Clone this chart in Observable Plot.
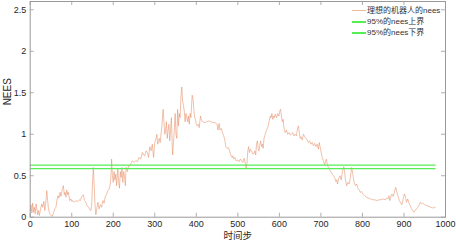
<!DOCTYPE html>
<html>
<head>
<meta charset="utf-8">
<script src="https://cdn.jsdelivr.net/npm/d3@7"></script>
<script src="https://cdn.jsdelivr.net/npm/@observablehq/plot@0.6"></script>
<style>
  html, body { margin: 0; padding: 0; background: #fff; }
  #wrap { position: relative; width: 456px; height: 243px; font-family: "Liberation Sans", Arial, sans-serif; }
  #legend { position: absolute; left: 352px; top: 5px; font-size: 8px; color: #333; line-height: 11px; font-family: "Liberation Sans", "Noto Sans CJK SC", sans-serif; }
  #legend .row { display: flex; align-items: center; white-space: nowrap; height: 11px; }
  #legend .sw { display: inline-block; width: 14px; margin-right: 1px; }
</style>
</head>
<body>
<div id="wrap"><div id="legend"></div></div>
<script>
const neesPoints = [
[0,0.08],[2,0.15],[4,0.05],[6,0.17],[8,0.06],[10,0.12],[12,0.04],[14,0.16],[16,0.1],[18,0.03],
[20,0.08],[22,0.02],[25,0.1],[28,0.16],[30,0.12],[33,0.19],[35,0.08],[37,0.15],[40,0.32],[42,0.2],
[44,0.1],[46,0.06],[48,0.03],[50,0.02],[53,0.01],[56,0.05],[59,0.1],[62,0.12],[65,0.22],[67,0.26],
[69,0.23],[72,0.3],[74,0.25],[77,0.33],[80,0.38],[82,0.27],[84,0.3],[86,0.24],[88,0.33],[90,0.27],
[92,0.3],[95,0.2],[98,0.22],[100,0.19],[103,0.2],[106,0.18],[110,0.2],[114,0.19],[118,0.21],[121,0.2],
[124,0.25],[128,0.27],[131,0.2],[134,0.18],[137,0.14],[140,0.12],[143,0.1],[146,0.08],[148,0.15],[150,0.4],
[152,0.6],[154,0.4],[156,0.15],[158,0.03],[161,0.12],[163,0.18],[166,0.1],[169,0.15],[172,0.12],[175,0.2],
[178,0.17],[181,0.25],[184,0.28],[187,0.32],[190,0.34],[193,0.4],[195,0.55],[196,0.7],[198,0.5],[200,0.42],
[202,0.55],[204,0.45],[206,0.52],[208,0.38],[211,0.58],[213,0.42],[215,0.35],[217,0.55],[219,0.48],[221,0.6],
[223,0.42],[225,0.55],[227,0.5],[229,0.38],[231,0.6],[234,0.55],[237,0.62],[240,0.62],[243,0.65],[246,0.68],
[250,0.66],[254,0.68],[258,0.67],[262,0.72],[266,0.7],[270,0.78],[273,0.75],[276,0.74],[279,0.8],[282,0.78],
[285,0.72],[288,0.85],[291,0.8],[294,0.88],[297,0.72],[300,0.9],[303,0.95],[305,1.0],[307,0.88],[309,0.92],
[311,0.95],[313,0.9],[315,1.0],[317,1.1],[320,1.3],[322,1.15],[324,1.0],[326,1.05],[328,1.15],[330,0.95],
[332,1.05],[334,1.12],[336,0.92],[338,1.05],[340,1.2],[342,0.85],[343,0.75],[345,0.9],[347,1.05],[349,1.25],
[351,1.0],[353,0.95],[355,1.3],[357,1.1],[359,1.25],[361,1.2],[363,1.45],[365,1.57],[367,1.4],[369,1.35],
[371,1.28],[373,1.15],[375,1.25],[377,1.2],[379,1.15],[381,1.22],[383,1.12],[385,1.25],[387,1.2],[390,1.47],
[392,1.43],[394,1.3],[396,1.2],[398,1.18],[400,1.12],[402,1.1],[405,1.12],[407,1.08],[410,1.22],[412,1.18],
[415,1.15],[420,1.14],[425,1.15],[430,1.16],[435,1.15],[440,1.14],[445,1.14],[450,1.12],[452,1.05],[455,1.13],
[457,1.05],[460,1.07],[463,1.02],[466,0.98],[469,0.92],[471,0.85],[474,0.83],[477,0.84],[480,0.8],[483,0.75],
[486,0.72],[488,0.74],[490,0.7],[493,0.72],[496,0.68],[500,0.69],[503,0.67],[506,0.7],[509,0.68],[512,0.66],
[515,0.71],[518,0.65],[520,0.58],[522,0.65],[524,0.8],[526,0.85],[528,0.78],[530,0.82],[533,0.8],[536,0.76],
[539,0.77],[541,0.8],[543,0.75],[545,0.88],[547,0.92],[549,0.82],[551,0.8],[553,0.88],[555,0.92],[557,0.85],
[559,0.88],[561,0.83],[563,0.95],[566,1.0],[569,1.05],[572,1.08],[575,1.15],[578,1.22],[580,1.2],[582,1.25],
[584,1.18],[586,1.22],[588,1.2],[590,1.24],[593,1.2],[596,1.25],[599,1.22],[601,1.28],[603,1.3],[605,1.22],
[607,1.15],[609,1.18],[611,1.08],[614,1.02],[617,1.05],[620,1.0],[623,1.02],[626,0.99],[629,1.0],[632,1.02],
[635,0.98],[638,1.0],[641,0.98],[644,1.08],[646,1.1],[648,1.02],[650,0.95],[652,0.97],[655,0.93],[658,1.0],
[661,0.97],[664,0.95],[667,0.93],[670,0.9],[673,0.92],[676,0.88],[679,0.9],[682,0.86],[685,0.89],[688,0.85],
[691,0.88],[694,0.82],[696,0.9],[698,0.85],[700,0.8],[703,0.72],[706,0.68],[709,0.63],[711,0.67],[713,0.7],
[715,0.65],[718,0.6],[721,0.57],[724,0.55],[727,0.52],[730,0.5],[733,0.48],[736,0.43],[738,0.45],[740,0.4],
[743,0.47],[746,0.5],[749,0.45],[752,0.55],[755,0.61],[757,0.55],[759,0.45],[762,0.38],[765,0.42],[768,0.4],
[771,0.48],[774,0.6],[776,0.55],[778,0.48],[780,0.42],[783,0.38],[786,0.4],[789,0.35],[792,0.33],[795,0.3],
[798,0.31],[801,0.28],[805,0.26],[810,0.24],[815,0.23],[820,0.22],[825,0.21],[830,0.21],[835,0.2],[840,0.21],
[845,0.21],[850,0.22],[855,0.21],[858,0.23],[861,0.22],[864,0.26],[866,0.2],[868,0.24],[871,0.28],[874,0.25],
[877,0.3],[880,0.36],[883,0.3],[886,0.25],[889,0.2],[892,0.17],[895,0.15],[898,0.22],[901,0.28],[904,0.24],
[906,0.18],[909,0.22],[912,0.17],[915,0.14],[918,0.1],[921,0.08],[924,0.06],[927,0.08],[930,0.1],[933,0.12],
[936,0.14],[939,0.18],[942,0.16],[945,0.17],[950,0.15],[955,0.14],[960,0.13],[965,0.12],[970,0.11],[975,0.12]
];
const upperBound = 0.627;
const lowerBound = 0.585;
const boundRange = [0, 975];
const xTicks = [0, 100, 200, 300, 400, 500, 600, 700, 800, 900, 1000];
const yTicks = [0, 0.5, 1, 1.5, 2, 2.5];
const legendLabels = ["理想的机器人的nees", "95%的nees上界", "95%的nees下界"];
const xLabel = "时间步";
const yLabel = "NEES";

const lineColor = "#e5875c";
const boundColor = "#55ee55";
const axisColor = "#9a9a9a";

const W = 456, H = 243;
const mT = 1, mB = 26.3, mL = 29.7, mR = 11;
const plotH = H - mT - mB, plotW = W - mL - mR;
const tk = 4;

const data = neesPoints.map(([t, v]) => ({t, v}));
const bounds = [upperBound, lowerBound].flatMap(b => boundRange.map(t => ({t, v: b, b})));

const chart = Plot.plot({
  width: W, height: H,
  marginTop: mT, marginBottom: mB, marginLeft: mL, marginRight: mR,
  style: {fontFamily: "'Liberation Sans', Arial, sans-serif", fontSize: "9px", color: "#262626", background: "#fff"},
  x: {domain: [0, 1000]},
  y: {domain: [0, 2.6]},
  marks: [
    Plot.line(data, {x: "t", y: "v", stroke: lineColor, strokeWidth: 0.7, strokeOpacity: 0.75}),
    Plot.line(bounds, {x: "t", y: "v", z: "b", stroke: boundColor, strokeWidth: 1.2}),
    Plot.frame({stroke: axisColor, strokeWidth: 1}),
    Plot.tickX(xTicks, {x: d => d, stroke: axisColor, strokeWidth: 0.8, insetTop: plotH - tk}),
    Plot.tickX(xTicks, {x: d => d, stroke: axisColor, strokeWidth: 0.8, insetBottom: plotH - tk}),
    Plot.tickY(yTicks, {y: d => d, stroke: axisColor, strokeWidth: 0.8, insetRight: plotW - tk}),
    Plot.tickY(yTicks, {y: d => d, stroke: axisColor, strokeWidth: 0.8, insetLeft: plotW - tk}),
    Plot.axisX({ticks: xTicks, tickSize: 0, tickPadding: 3, label: null, tickFormat: d => String(d), fontSize: 9}),
    Plot.axisY({ticks: yTicks, tickSize: 0, tickPadding: 4, label: null, tickFormat: d => String(d), fontSize: 9}),
    Plot.text([yLabel], {text: d => d, frameAnchor: "left", rotate: -90, dx: -22, dy: -4, fontSize: 10, fill: "#262626"}),
    Plot.text([xLabel], {text: d => d, frameAnchor: "bottom", dy: 21.5, fontSize: 9.5, fill: "#262626", fontFamily: "'Noto Sans CJK SC', sans-serif"})
  ]
});
document.getElementById("wrap").prepend(chart);

const legendColors = [lineColor, boundColor, boundColor];
const legendHeights = [1, 2, 2];
const legendOpacity = [0.6, 1, 1];
const legend = document.getElementById("legend");
legendLabels.forEach((lab, i) => {
  const row = document.createElement("div");
  row.className = "row";
  const sw = document.createElement("span");
  sw.className = "sw";
  sw.style.height = legendHeights[i] + "px";
  sw.style.background = legendColors[i];
  sw.style.opacity = String(legendOpacity[i]);
  const tx = document.createElement("span");
  tx.textContent = lab;
  row.append(sw, tx);
  legend.append(row);
});
</script>
</body>
</html>
